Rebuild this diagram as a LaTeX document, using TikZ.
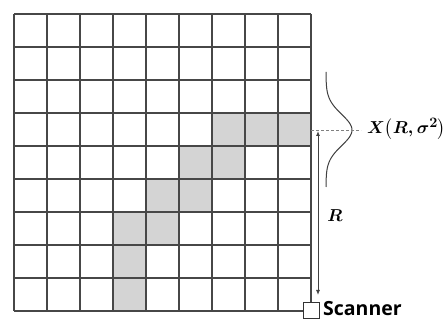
\documentclass[tikz,border=0pt]{standalone}
\usepackage{fontspec}
\usepackage{amsmath}
\newfontfamily\sansb{Open Sans}
\usetikzlibrary{arrows.meta}
\begin{document}
\begin{tikzpicture}[x=1pt,y=-1pt,
  gridline/.style={line width=1.1pt, draw=black!72},
  shade/.style={fill=black!17, draw=none},
  lbl/.style={font=\boldmath\fontsize{19}{19}\selectfont, inner sep=0pt},
  dimarrow/.style={line width=0.9pt, draw=black!75, {Latex[length=5pt,width=4pt]}-{Latex[length=5pt,width=4pt]}},
  scanbox/.style={draw=black!80, line width=0.9pt, fill=white, minimum size=16pt, inner sep=0pt},
  scantext/.style={font=\sansb\bfseries\fontsize{19.5}{19.5}\selectfont, inner sep=0pt, anchor=west}
]
\useasboundingbox (0,0) rectangle (447,320);
% shaded cells (col,row)
\foreach \c/\r in {6/3,7/3,8/3,5/4,6/4,4/5,5/5,3/6,4/6,3/7,3/8}{
  \fill[shade] ({14+33*\c},{14+33*\r}) rectangle ({14+33*(\c+1)},{14+33*(\r+1)});
}
% grid
\foreach \i in {0,...,9}{
  \draw[gridline] ({14+33*\i},14) -- ({14+33*\i},311);
  \draw[gridline] (14,{14+33*\i}) -- (311,{14+33*\i});
}
% gaussian
\draw[line width=1pt, black!75] plot[domain=72:187, samples=80, variable=\t] ({326+26*exp(-(((\t-130)/22)^2))},\t);
% dashed level line
\coordinate (lvlA) at (311,130);
\coordinate (lvlB) at (361,130);
\draw[densely dashed, black!50, line width=0.6pt] (lvlA) -- (lvlB);
\node[lbl, anchor=west] (xlab) at (367,129) {$X\bigl(R,\sigma^2\bigr)$};
% range arrow
\coordinate (arrTop) at (318,131);
\coordinate (arrBot) at (318,295);
\draw[dimarrow] (arrTop) -- (arrBot);
\node[lbl] (rlab) at (335,216) {$R$};
% scanner
\node[scanbox] (scanner) at (311,310) {};
\node[scantext] (scantxt) at (323,309) {Scanner};
\end{tikzpicture}
\end{document}
